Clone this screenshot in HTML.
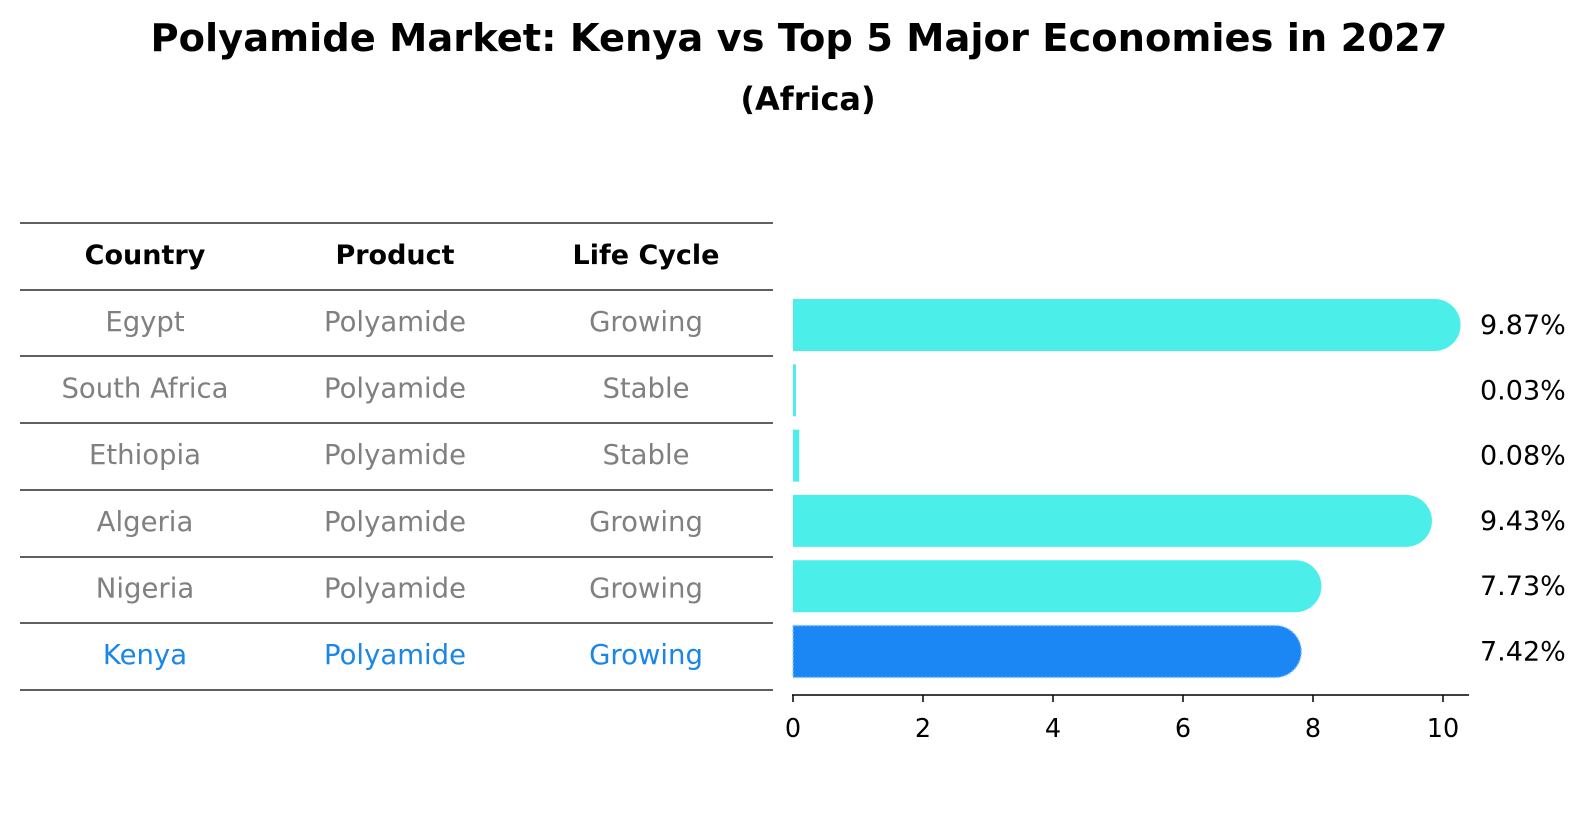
<!DOCTYPE html>
<html><head><meta charset="utf-8"><style>
html,body{margin:0;padding:0;background:#fff;}
svg{display:block;font-family:"DejaVu Sans","Liberation Sans",sans-serif;}
</style></head><body>
<svg id="chart" width="1586" height="823" viewBox="0 0 1586 823">
<text x="799" y="51" text-anchor="middle" font-size="38" font-weight="bold" textLength="1297" lengthAdjust="spacingAndGlyphs">Polyamide Market: Kenya vs Top 5 Major Economies in 2027</text>
<text x="808" y="110" text-anchor="middle" font-size="32" font-weight="bold">(Africa)</text>
<g id="table"></g>
<g id="bars"></g>
</svg>
<script>
const countries=["Egypt","South Africa","Ethiopia","Algeria","Nigeria","Kenya"];
const products=["Polyamide","Polyamide","Polyamide","Polyamide","Polyamide","Polyamide"];
const lifeCycles=["Growing","Stable","Stable","Growing","Growing","Growing"];
const values=[9.87,0.03,0.08,9.43,7.73,7.42];
const valueLabels=["9.87%","0.03%","0.08%","9.43%","7.73%","7.42%"];
const xTicks=[0,2,4,6,8,10];
const NS="http://www.w3.org/2000/svg";
function mk(tag,attrs,parent){const e=document.createElementNS(NS,tag);for(const k in attrs)e.setAttribute(k,attrs[k]);parent.appendChild(e);return e;}
const x=v=>793+v*65;
const barY=i=>325+i*65.3;
const rowY=i=>323+i*66.6;
const tbl=document.getElementById('table');
const colX=[145,395,646];
const headers=["Country","Product","Life Cycle"];
headers.forEach((h,j)=>{const t=mk('text',{x:colX[j],y:264,'text-anchor':'middle','font-size':27,'font-weight':'bold'},tbl);t.textContent=h;

});
const lines=[223,290,356,423,490,557,623,690];
lines.forEach((ly,k)=>{const l=mk('line',{x1:20,x2:773,y1:ly,y2:ly,stroke:'#000','stroke-width':1.2},tbl);

});
countries.forEach((c,i)=>{const col=c==="Kenya"?"#1a87e8":"#808080";
[c,products[i],lifeCycles[i]].forEach((v,j)=>{const t=mk('text',{x:colX[j],y:rowY(i)+8,'text-anchor':'middle','font-size':27.5,fill:col},tbl);t.textContent=v;

});});
const g=document.getElementById('bars');
const h=52,r=26;
values.forEach((v,i)=>{const x0=x(0),x1=x(v),yc=barY(i),y0=yc-h/2;
const kenya=countries[i]==="Kenya";const fill=kenya?"#1a87f5":"#4beee9";
let d;
if(x1-x0>r){d=`M${x0},${y0} H${x1} A${r},${r} 0 0 1 ${x1},${y0+h} H${x0} Z`;}
else{d=`M${x0},${y0} H${x1+1} V${y0+h} H${x0} Z`;}
const p=mk('path',{d:d,fill:fill},g);
if(kenya){p.setAttribute('stroke','#8cc4f8');p.setAttribute('stroke-width','1.5');p.setAttribute('stroke-dasharray','2,2');}


const t=mk('text',{x:1480,y:yc+9,'font-size':27},g);t.textContent=valueLabels[i];

});
const ax=mk('line',{x1:792,x2:1469,y1:695,y2:695,stroke:'#000','stroke-width':1.5},g);


xTicks.forEach(v=>{const tk=mk('line',{x1:x(v),x2:x(v),y1:695,y2:702,stroke:'#000','stroke-width':1.5},g);


const t=mk('text',{x:x(v),y:737,'text-anchor':'middle','font-size':25.5},g);t.textContent=v;

});
</script>
</body></html>
